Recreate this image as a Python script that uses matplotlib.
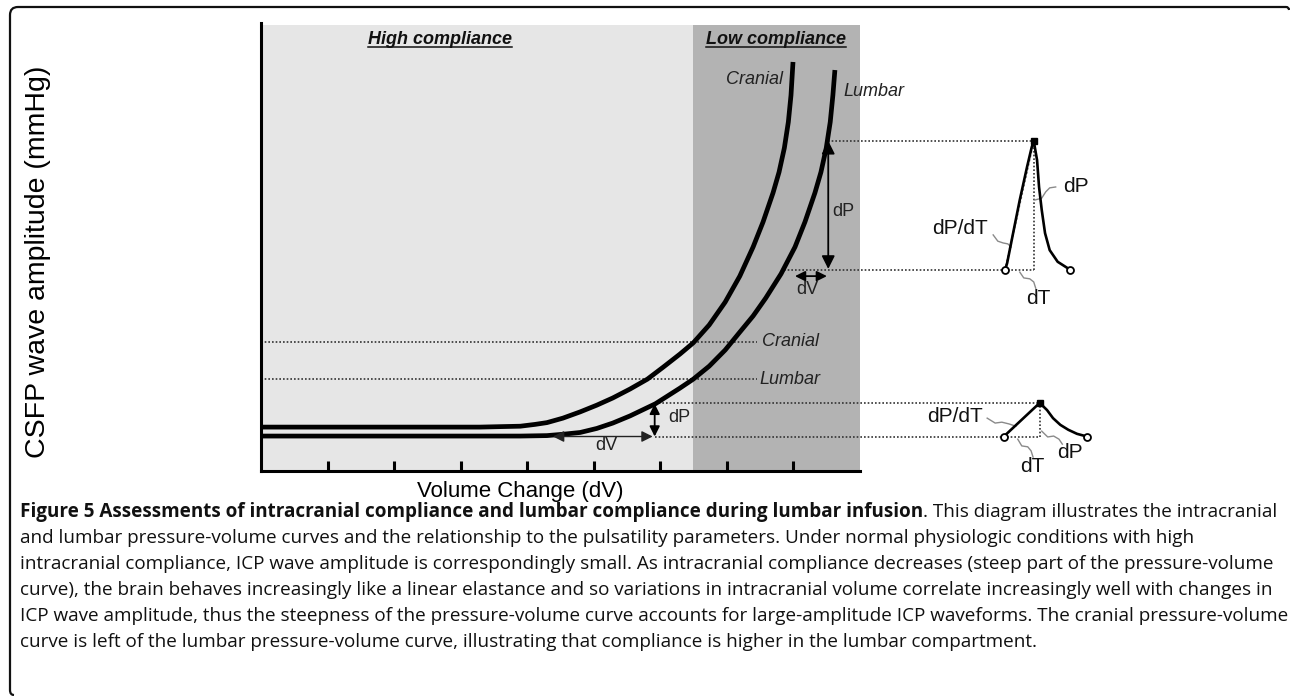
import matplotlib
matplotlib.use('Agg')
import matplotlib.pyplot as plt
from matplotlib.lines import Line2D
from matplotlib.path import Path
from matplotlib.patches import PathPatch
from matplotlib.transforms import IdentityTransform

# pressure-volume curves: volume change (tick units) vs CSFP amplitude
cranial_v = [0.0, 3.29, 3.59, 3.90, 4.12, 4.30, 4.54, 4.80, 5.05, 5.29, 5.55, 5.81, 6.05, 6.30,
             6.50, 6.74, 6.98, 7.20, 7.40, 7.55, 7.70, 7.79, 7.87, 7.93, 7.97, 8.00]
cranial_p = [0.98, 0.98, 0.99, 1.00, 1.04, 1.08, 1.18, 1.32, 1.47, 1.63, 1.83, 2.05, 2.32, 2.61,
             2.86, 3.26, 3.77, 4.35, 5.00, 5.56, 6.21, 6.67, 7.21, 7.79, 8.39, 9.13]
lumbar_v = [0.0, 3.90, 4.30, 4.54, 4.80, 5.05, 5.29, 5.55, 5.93, 6.30, 6.50, 6.74, 6.98, 7.20,
            7.40, 7.59, 7.82, 8.03, 8.18, 8.33, 8.42, 8.50, 8.56, 8.60, 8.63]
lumbar_p = [0.78, 0.78, 0.79, 0.82, 0.86, 0.95, 1.07, 1.23, 1.50, 1.85, 2.05, 2.34, 2.70, 3.10,
            3.46, 3.86, 4.40, 5.00, 5.56, 6.21, 6.67, 7.21, 7.79, 8.39, 8.95]

vol_ticks = [1, 2, 3, 4, 5, 6, 7, 8]
high_zone = (0, 6.5)
low_zone = (6.5, 9)

cranial_level = 2.88
lumbar_level = 2.05

# steep part (low compliance) and flat part (high compliance) dP / dV
steep_dp = (8.53, 4.51, 7.37)      # volume, low, high
steep_dv = (4.35, 8.03, 8.51)      # amplitude, left, right
steep_start = 7.86
flat_dp = (5.92, 0.77, 1.50)
flat_dv = (0.77, 4.39, 5.89)

# pulse waveforms drawn to the right of the plot
big_wave_t = [11.19, 11.22, 11.31, 11.41, 11.52, 11.59, 11.62, 11.67, 11.70, 11.74, 11.79, 11.86, 11.98, 12.17]
big_wave_p = [4.49, 4.64, 5.31, 6.05, 6.79, 7.23, 7.37, 6.94, 6.34, 5.83, 5.31, 4.93, 4.67, 4.49]
small_wave_t = [11.17, 11.71, 11.82, 11.91, 12.02, 12.14, 12.27, 12.42]
small_wave_p = [0.77, 1.52, 1.36, 1.18, 1.03, 0.92, 0.83, 0.77]

# leader squiggles for the waveform labels
leaders = [
    ([11.64, 11.74, 11.80, 11.86, 11.95], [6.05, 6.09, 6.23, 6.32, 6.34]),
    ([11.01, 11.08, 11.16, 11.23, 11.28], [5.27, 5.13, 5.09, 5.07, 5.00]),
    ([11.41, 11.47, 11.56, 11.62, 11.65], [4.44, 4.31, 4.29, 4.22, 4.08]),
    ([10.92, 11.04, 11.14, 11.25, 11.35], [1.18, 1.07, 1.09, 1.05, 1.00]),
    ([11.38, 11.44, 11.53, 11.58, 11.61], [0.71, 0.56, 0.54, 0.45, 0.31]),
    ([11.74, 11.83, 11.92, 12.00, 12.05], [0.89, 0.76, 0.78, 0.71, 0.60]),
]

caption_bold = "Figure 5 Assessments of intracranial compliance and lumbar compliance during lumbar infusion"
caption_lines = [
    ". This diagram illustrates the intracranial",
    "and lumbar pressure-volume curves and the relationship to the pulsatility parameters. Under normal physiologic conditions with high",
    "intracranial compliance, ICP wave amplitude is correspondingly small. As intracranial compliance decreases (steep part of the pressure-volume",
    "curve), the brain behaves increasingly like a linear elastance and so variations in intracranial volume correlate increasingly well with changes in",
    "ICP wave amplitude, thus the steepness of the pressure-volume curve accounts for large-amplitude ICP waveforms. The cranial pressure-volume",
    "curve is left of the lumbar pressure-volume curve, illustrating that compliance is higher in the lumbar compartment.",
]

plt.rcParams['font.family'] = ['Liberation Sans', 'DejaVu Sans']

fig = plt.figure(figsize=(12.9, 6.96), dpi=100)
bg = fig.add_axes([0, 0, 1, 1])
bg.set_xlim(0, 1290)
bg.set_ylim(696, 0)
bg.axis('off')

# frame (top and left edges only, rounded corner)
frame = Path([(1289, 10), (1289, 7), (1286, 7), (18, 7), (10, 7), (10, 15), (10, 690), (10, 695), (14, 695)],
             [Path.MOVETO, Path.CURVE3, Path.CURVE3, Path.LINETO, Path.CURVE3, Path.CURVE3,
              Path.LINETO, Path.CURVE3, Path.CURVE3])
bg.add_patch(PathPatch(frame, fill=False, lw=1.6, edgecolor='#111'))

ax = fig.add_axes([261 / 1290, (696 - 471) / 696, 598.5 / 1290, 448 / 696])
ax.set_xlim(0, 9)
ax.set_ylim(0, 10)
ax.set_facecolor('none')
ax.axvspan(*high_zone, ymax=0.995, color='#e6e6e6', lw=0, zorder=0)
ax.axvspan(*low_zone, ymax=0.995, color='#b3b3b3', lw=0, zorder=0)
for s in ['top', 'right']:
    ax.spines[s].set_visible(False)
for s in ['left', 'bottom']:
    ax.spines[s].set_linewidth(2.2)
    ax.spines[s].set_zorder(5)
ax.set_xticks(vol_ticks)
ax.set_yticks([])
ax.tick_params(axis='x', direction='in', length=7, width=2.2, labelbottom=False)


def P(x, y):
    # pixel position -> data position, used for text placement
    return (x - 261) / 66.5, (471 - y) / 44.8


dot = (0, (1, 1.2))
for v, p in [(cranial_v, cranial_p), (lumbar_v, lumbar_p)]:
    ax.plot(v, p, color='black', lw=3.4, solid_capstyle='butt', solid_joinstyle='round', zorder=4)

# reference levels
ax.plot([0, 7.46], [cranial_level] * 2, ls=dot, lw=1.2, color='#333', zorder=3)
ax.plot([0, 7.46], [lumbar_level] * 2, ls=dot, lw=1.2, color='#333', zorder=3)

# projections to the waveforms
kw = dict(ls=dot, lw=1.2, color='#333', zorder=3, clip_on=False)
ax.plot([steep_dp[0], big_wave_t[6]], [big_wave_p[6]] * 2, **kw)
ax.plot([steep_start, big_wave_t[6]], [big_wave_p[0]] * 2, **kw)
ax.plot([big_wave_t[6]] * 2, [big_wave_p[0], big_wave_p[6]], **kw)
ax.plot([flat_dp[0], small_wave_t[1]], [small_wave_p[1]] * 2, **kw)
ax.plot([flat_dp[0], small_wave_t[1]], [small_wave_p[0]] * 2, **kw)
ax.plot([small_wave_t[1]] * 2, [small_wave_p[0], small_wave_p[1]], **kw)


def arrow(a, b, ms, lw=1.3, color='black'):
    ax.annotate('', xy=b, xytext=a, zorder=5,
                arrowprops=dict(arrowstyle='<|-|>,head_length=0.6,head_width=0.3', color=color, lw=lw,
                                shrinkA=0, shrinkB=0, mutation_scale=ms))


arrow((steep_dp[0], steep_dp[1]), (steep_dp[0], steep_dp[2]), 13)
arrow((steep_dv[1], steep_dv[0]), (steep_dv[2], steep_dv[0]), 10)
arrow((flat_dp[0], flat_dp[1]), (flat_dp[0], flat_dp[2]), 10)
arrow((flat_dv[1], flat_dv[0]), (flat_dv[2], flat_dv[0]), 11, lw=1.0, color='#222')

# waveforms
ax.plot(big_wave_t, big_wave_p, color='black', lw=1.9, clip_on=False, zorder=5)
ax.plot([big_wave_t[0], big_wave_t[6]], [big_wave_p[0], big_wave_p[6]], ls=dot, lw=1.4,
        color='#777', clip_on=False, zorder=4)
ax.plot(small_wave_t, small_wave_p, color='black', lw=1.9, clip_on=False, zorder=5)
ax.plot([big_wave_t[0], big_wave_t[-1], small_wave_t[0], small_wave_t[-1]],
        [big_wave_p[0], big_wave_p[-1], small_wave_p[0], small_wave_p[-1]],
        'o', ms=5, mfc='white', mec='black', mew=1.3, clip_on=False, zorder=6)
ax.plot([big_wave_t[6], small_wave_t[1]], [big_wave_p[6], small_wave_p[1]], 's', ms=5,
        color='black', clip_on=False, zorder=6)
for lx, ly in leaders:
    ax.plot(lx, ly, color='#8a8a8a', lw=1.0, clip_on=False, zorder=4)

# texts
head = dict(fontsize=13, fontweight='bold', fontstyle='italic', ha='center', va='baseline', color='#111')
t_high = ax.text(*P(440, 44), 'High compliance', **head)
t_low = ax.text(*P(776, 44), 'Low compliance', **head)
it = dict(fontsize=13, fontstyle='italic', va='center', color='#222')
ax.text(*P(783, 80), 'Cranial', ha='right', **it)
ax.text(*P(843, 91), 'Lumbar', ha='left', **it)
ax.text(*P(762, 342), 'Cranial', ha='left', **it)
ax.text(*P(759, 379), 'Lumbar', ha='left', **it)
sm = dict(fontsize=13, ha='center', va='center', color='#222')
ax.text(*P(843, 212), 'dP', **sm)
ax.text(*P(807, 290), 'dV', **sm)
ax.text(*P(679, 418), 'dP', **sm)
ax.text(*P(606, 445), 'dV', **sm)
wl = dict(fontsize=15, ha='center', va='center', color='#111', clip_on=False)
ax.text(*P(960, 228), 'dP/dT', **wl)
ax.text(*P(1076, 187), 'dP', **wl)
ax.text(*P(1038, 299), 'dT', **wl)
ax.text(*P(955, 417), 'dP/dT', **wl)
ax.text(*P(1032, 467), 'dT', **wl)
ax.text(*P(1070, 452), 'dP', **wl)

bg.text(38, 262, 'CSFP wave amplitude (mmHg)', rotation=90, fontsize=20.5, ha='center', va='center')
bg.text(520, 491, 'Volume Change (dV)', fontsize=16, ha='center', va='center')

# caption: one size, chosen so the long lines stay inside the frame
fig.canvas.draw()
r = fig.canvas.get_renderer()
cap = dict(family=['Open Sans', 'DejaVu Sans'], va='center', color='#111')
ys = [512, 538, 564, 590, 616, 642]


def width(s, size, **extra):
    t = bg.text(0, 0, s, fontsize=size, **cap, **extra)
    w = t.get_window_extent(r).width
    t.remove()
    return w


size = min(12 * 1260 / width(caption_lines[i], 12) for i in (2, 3, 4))
w_rest = width(caption_lines[0], size)
w_bold = width(caption_bold, size, fontweight='bold')
bold_size = min(size, size * (1262 - w_rest) / w_bold)
tb = bg.text(20, ys[0], caption_bold, fontsize=bold_size, fontweight='bold', **cap)
wb = tb.get_window_extent(r).width
bg.text(20 + wb, ys[0], caption_lines[0], fontsize=size, **cap)
for y, line in zip(ys[1:], caption_lines[1:]):
    bg.text(20, y, line, fontsize=size, **cap)

# underline the compliance headings
for t in (t_high, t_low):
    bb = t.get_window_extent(r)
    yline = 696 - 47
    fig.add_artist(Line2D([bb.x0, bb.x1], [yline, yline], lw=1.1, color='#111', transform=IdentityTransform()))

fig.savefig('out.png', dpi=100)
